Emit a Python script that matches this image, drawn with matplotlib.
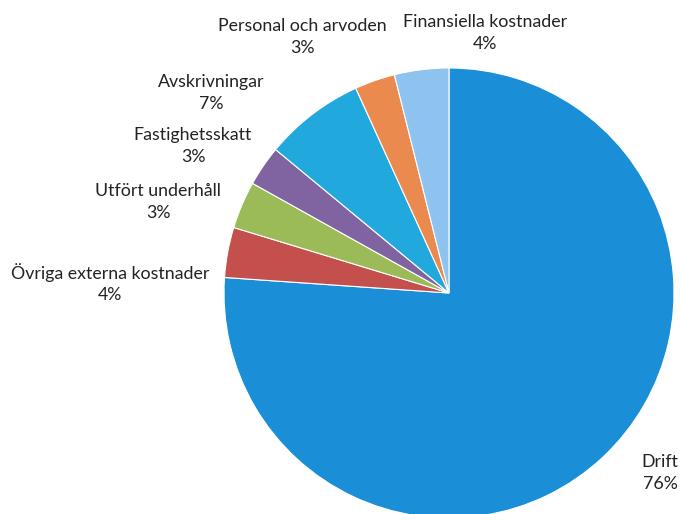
import matplotlib
matplotlib.use("Agg")
import matplotlib.pyplot as plt

categories = ["Drift", "Övriga externa kostnader", "Utfört underhåll", "Fastighetsskatt",
              "Avskrivningar", "Personal och arvoden", "Finansiella kostnader"]
values = [76.1, 3.6, 3.4, 2.9, 7.2, 2.9, 3.9]
pct_labels = ["76%", "4%", "3%", "3%", "7%", "3%", "4%"]
colors = ["#1b8ed8", "#c4504d", "#9bbb59", "#8064a2", "#21a8dd", "#ea8a4e", "#8ec3f0"]

# label centres in pixel coordinates (x, y from top)
label_px = [(660, 473), (110, 283), (158, 202), (193, 146), (211, 93), (302, 37), (485, 33)]

W, H = 681, 514
cx, cy, r = 449, 293, 225

fig = plt.figure(figsize=(W / 100, H / 100), dpi=100)
ax = fig.add_axes([(cx - r) / W, (H - cy - r) / H, 2 * r / W, 2 * r / H])
ax.pie(values, colors=colors, startangle=90, counterclock=False, radius=1,
       wedgeprops=dict(edgecolor="white", linewidth=0.8))
ax.set_xlim(-1, 1)
ax.set_ylim(-1, 1)
ax.set_aspect("equal")
ax.axis("off")

for cat, pct, (px, py) in zip(categories, pct_labels, label_px):
    fig.text(px / W, 1 - py / H, f"{cat}\n{pct}", ha="center", va="center",
             fontsize=12.8, family="Lato", color="#222222", linespacing=1.4)

fig.savefig("out.png", dpi=100)
